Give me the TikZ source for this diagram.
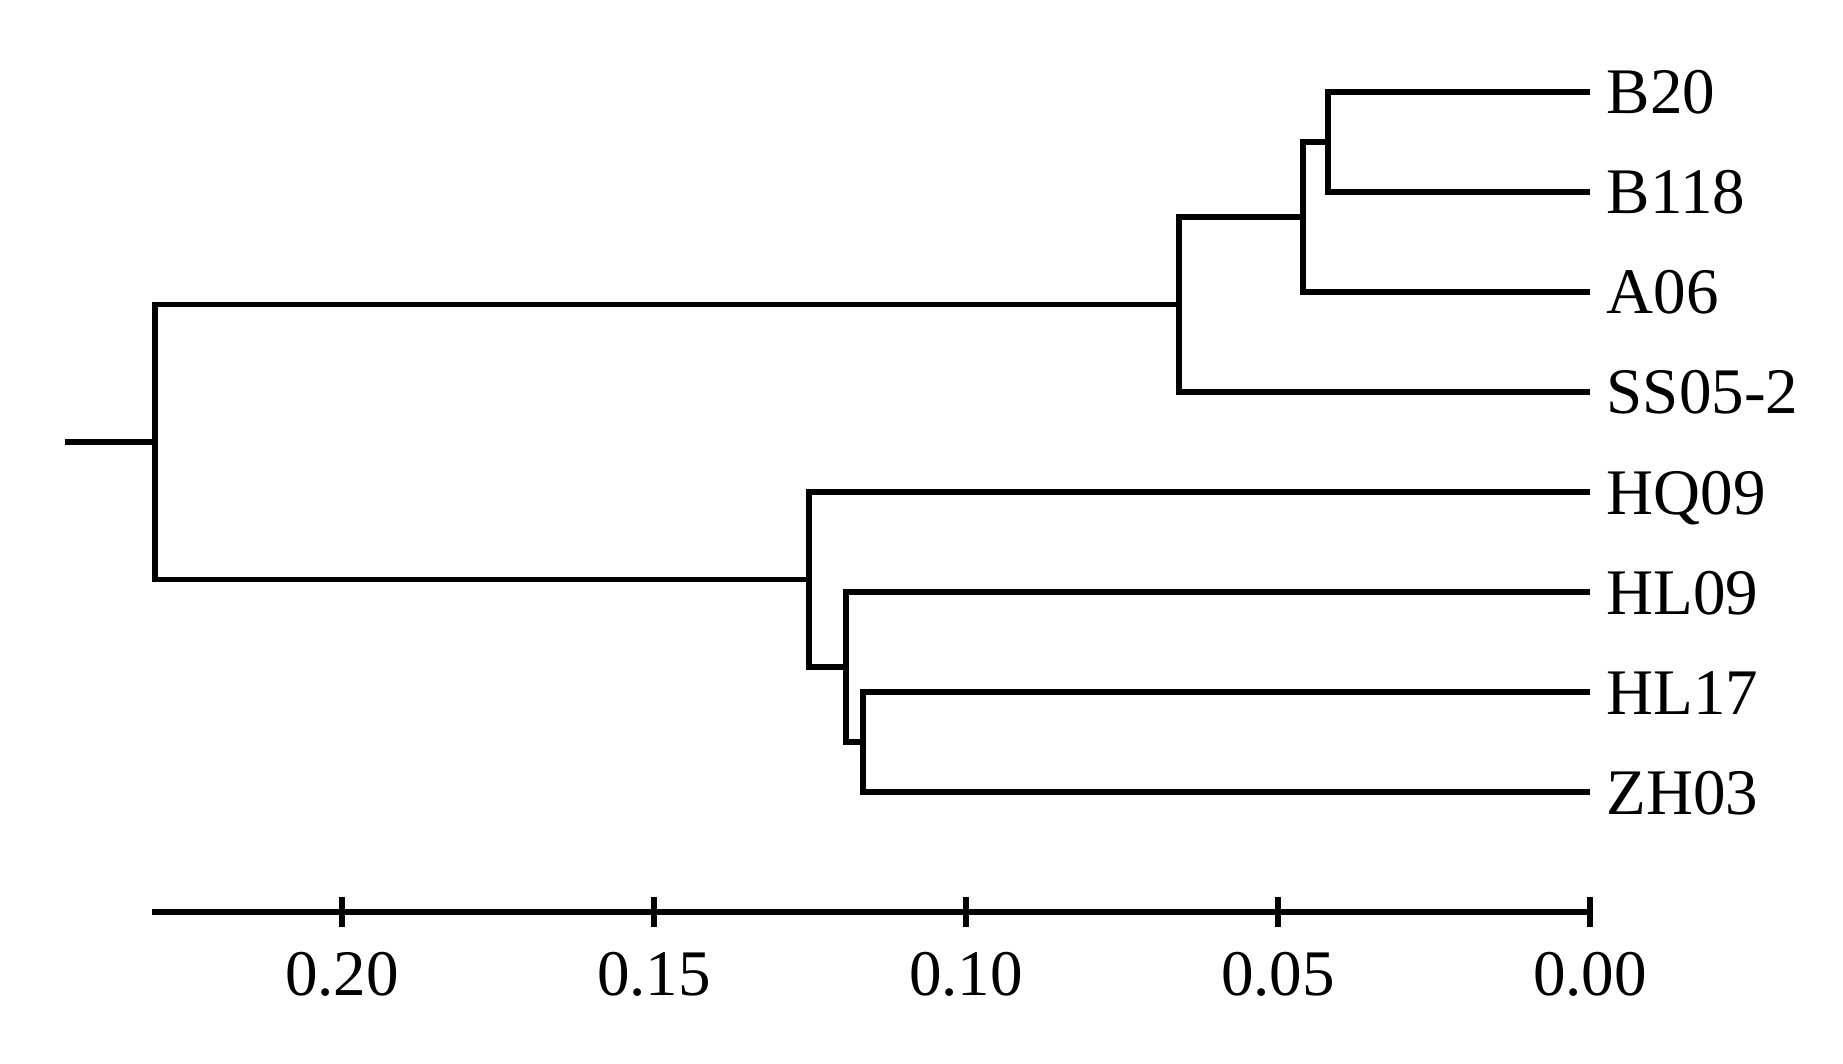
\documentclass[tikz,border=0pt]{standalone}
\usepackage{fontspec}
\setmainfont{Liberation Serif}
\usetikzlibrary{positioning}
\tikzset{
  branch/.style={line width=1.7pt, line join=miter},
  taxon/.style={inner sep=0pt, text height=0.44cm, text depth=0pt, font=\fontsize{18.5}{22}\selectfont},
  scalelabel/.style={inner sep=0pt, anchor=base, font=\fontsize{18.5}{22}\selectfont}
}
\begin{document}
\begin{tikzpicture}
    \useasboundingbox (0,0) rectangle (18.43,-10.63);
    % leaf tips
    \coordinate (tB20)  at (15.90,-0.92);
    \coordinate (tB118) at (15.90,-1.92);
    \coordinate (tA06)  at (15.90,-2.92);
    \coordinate (tSS)   at (15.90,-3.92);
    \coordinate (tHQ)   at (15.90,-4.92);
    \coordinate (tHL09) at (15.90,-5.92);
    \coordinate (tHL17) at (15.90,-6.92);
    \coordinate (tZH)   at (15.90,-7.92);
    % inner nodes
    \coordinate (n1) at (13.28,-1.42);
    \coordinate (n2) at (13.03,-2.17);
    \coordinate (n3) at (11.79,-3.045);
    \coordinate (n4) at (8.627,-7.42);
    \coordinate (n5) at (8.46,-6.67);
    \coordinate (n6) at (8.09,-5.795);
    \coordinate (root) at (1.55,-4.42);
    \coordinate (stub) at (0.65,-4.42);
    % labels
    \node[taxon, right=0.16cm of tB20]  (B20)  {B20};
    \node[taxon, right=0.16cm of tB118] (B118) {B118};
    \node[taxon, right=0.16cm of tA06]  (A06)  {A06};
    \node[taxon, right=0.16cm of tSS]   (SS)   {SS05-2};
    \node[taxon, right=0.16cm of tHQ]   (HQ)   {HQ09};
    \node[taxon, right=0.16cm of tHL09] (HL09) {HL09};
    \node[taxon, right=0.16cm of tHL17] (HL17) {HL17};
    \node[taxon, right=0.16cm of tZH]   (ZH)   {ZH03};
    % tree
    \draw[branch] (tB20) -| (n1) |- (tB118);
    \draw[branch] (n1) -| (n2) |- (tA06);
    \draw[branch] (n2) -| (n3) |- (tSS);
    \draw[branch] (tHL17) -| (n4) |- (tZH);
    \draw[branch] (tHL09) -| (n5) |- (n4);
    \draw[branch] (tHQ) -| (n6) |- (n5);
    \draw[branch] (n3) -| (root) |- (n6);
    \draw[branch] (stub) -- (root);
    % scale
    \coordinate (axL) at (1.52,-9.12);
    \coordinate (axR) at (15.90,-9.12);
    \draw[branch] (axL) -- (axR);
    \foreach \v/\x [count=\i] in {0.20/3.42, 0.15/6.54, 0.10/9.66, 0.05/12.78, 0.00/15.90} {
        \coordinate (k\i) at (\x,-9.12);
        \draw[branch] ([yshift=0.15cm]k\i) -- ([yshift=-0.15cm]k\i);
        \node[scalelabel] (s\i) at (\x,-9.95) {\v};
    }
\end{tikzpicture}
\end{document}
